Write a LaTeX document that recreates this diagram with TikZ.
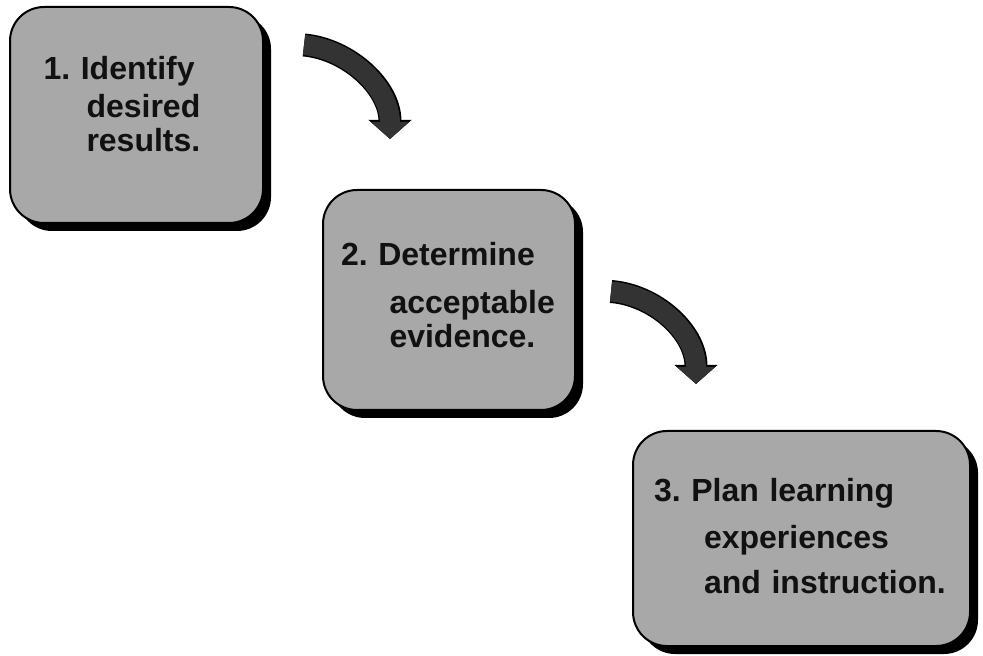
\documentclass[tikz,border=0pt]{standalone}
\usepackage{fontspec}
\setmainfont{Liberation Sans}
\usepackage{xcolor}
\usepackage{tikz}
\usetikzlibrary{arrows.meta,shadows}
\definecolor{bdFill}{HTML}{A8A8A8}
\definecolor{bdInk}{HTML}{111111}
\definecolor{bdArrow}{HTML}{333333}
\tikzset{
  bd diagram/.style={font=\bfseries\fontsize{16}{18}\selectfont\frenchspacing,
    text=bdInk, line join=round},
  bd box/.style={draw=black, fill=bdFill, line width=1pt,
    rounded corners=17pt, align=left, inner ysep=4pt,
    drop shadow={shadow xshift=4pt, shadow yshift=-4pt, fill=black, opacity=1}},
  bd arrow/.style={draw=bdArrow, line width=10pt,
    -{Triangle[width=18.5pt,length=8.5pt]},
    preaction={draw=black, line width=11.5pt,
      -{Triangle[width=21pt,length=9.5pt]}}}
}
\begin{document}
\begin{tikzpicture}[bd diagram,x=0.5pt,y=-0.5pt]
\useasboundingbox (0,0) rectangle (983,656);
\node[bd box,minimum width=126.5pt,minimum height=108pt,
  inner xsep=16.75pt,text width=93pt] (identify) at (136.5,115)
  {1. Identify\\[1pt]\hspace*{21.5pt}desired\\[-1pt]%
   \hspace*{21.5pt}results.\rule[-10.7pt]{0pt}{10.7pt}};
\node[bd box,minimum width=126pt,minimum height=110pt,
  inner xsep=9pt,text width=108pt] (evidence) at (449,300)
  {2. Determine\\[6pt]\hspace*{24.25pt}acceptable\\[-1pt]%
   \hspace*{24.25pt}evidence.\rule[-5.5pt]{0pt}{5.5pt}};
\node[bd box,minimum width=168.5pt,minimum height=107.5pt,
  inner xsep=10.5pt,text width=147.5pt] (plan) at (801.5,538.5)
  {3. Plan learning\\[5.5pt]\hspace*{25pt}experiences\\[4.5pt]%
   \hspace*{25pt}and instruction.\rule[-3pt]{0pt}{3pt}};
\coordinate (a1 tail) at ([shift={(40,39)}]identify.north east);
\coordinate (a1 tip) at ([shift={(-59,-50)}]evidence.north);
\coordinate (a2 tail) at ([shift={(35,102.5)}]evidence.north east);
\coordinate (a2 tip) at ([shift={(-105.5,-46)}]plan.north);
\draw[bd arrow] (a1 tail) .. controls +(44,4) and +(0,-52) .. (a1 tip);
\draw[bd arrow] (a2 tail) .. controls +(44,3.5) and +(0,-52) .. (a2 tip);
\end{tikzpicture}
\end{document}
